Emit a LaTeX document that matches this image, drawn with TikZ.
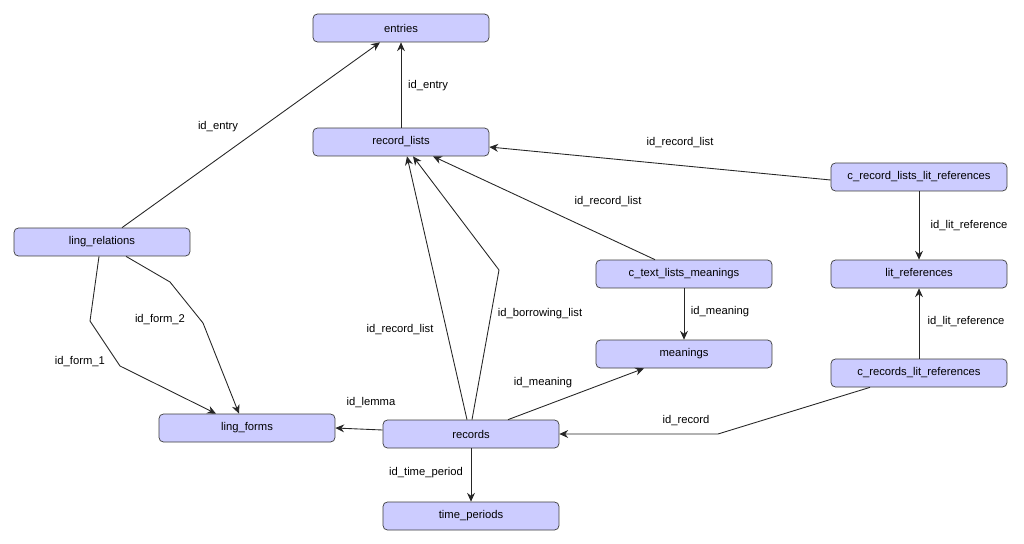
\documentclass[tikz,border=0pt]{standalone}
\usepackage{fontspec}
\setmainfont{Liberation Sans}
\usetikzlibrary{arrows.meta,calc}
\definecolor{tblfill}{RGB}{204,204,255}
\definecolor{tbledge}{RGB}{60,60,60}

\tikzset{
  tbl/.style={draw=tbledge, fill=tblfill, rounded corners=2.5pt, minimum width=3.52cm,
    minimum height=0.56cm, inner sep=0pt, font=\fontsize{6.4}{8}\selectfont},
  fk/.style={-{Stealth[length=5pt,width=4.5pt]}, draw=black!85, line width=0.5pt},
  lbl/.style={font=\fontsize{6.4}{8}\selectfont, inner sep=0pt}
}

\begin{document}
\begin{tikzpicture}[x=0.02cm, y=-0.02cm]
  \useasboundingbox (0,0) rectangle (1024,544);

  % tables
  \node[tbl] (ent)   at (401,28)  {entries};
  \node[tbl] (recl)  at (401,142) {record\_lists};
  \node[tbl] (lrel)  at (102,242) {ling\_relations};
  \node[tbl] (crllr) at (919,177) {c\_record\_lists\_lit\_references};
  \node[tbl] (ctlm)  at (684,274) {c\_text\_lists\_meanings};
  \node[tbl] (litr)  at (919,274) {lit\_references};
  \node[tbl] (mean)  at (684,354) {meanings};
  \node[tbl] (crlr)  at (919,373) {c\_records\_lit\_references};
  \node[tbl] (lform) at (247,428) {ling\_forms};
  \node[tbl] (rec)   at (471,434) {records};
  \node[tbl] (tper)  at (471,516) {time\_periods};

  % foreign keys
  \draw[fk] (recl.north) -- (ent.south);
  \draw[fk] ($(lrel.north)+(20,0)$) -- ($(ent.south)+(-21,0)$);
  \draw[fk] ($(lrel.south)+(-3,0)$) -- (90,321) -- (120,366) -- ($(lform.north)+(-31,0)$);
  \draw[fk] ($(lrel.south)+(24,0)$) -- (170,282) -- (203,323) -- ($(lform.north)+(-8,0)$);
  \draw[fk] ($(rec.west)+(0,-4)$) -- (lform.east);
  \draw[fk] ($(rec.north)+(-4,0)$) -- ($(recl.south)+(6,0)$);
  \draw[fk] ($(rec.north)+(1,0)$) -- (499,270) -- ($(recl.south)+(12,0)$);
  \draw[fk] ($(ctlm.north)+(-29,0)$) -- ($(recl.south)+(32,0)$);
  \draw[fk] ($(crllr.west)+(0,3)$) -- ($(recl.east)+(0,5)$);
  \draw[fk] (crllr.south) -- (litr.north);
  \draw[fk] (ctlm.south) -- (mean.north);
  \draw[fk] (crlr.north) -- (litr.south);
  \draw[fk] ($(rec.north)+(37,0)$) -- ($(mean.south)+(-40,0)$);
  \draw[fk] ($(crlr.south)+(-49,0)$) -- (718,434) -- (rec.east);
  \draw[fk] (rec.south) -- (tper.north);

  % key names
  \node[lbl] (l1)  at (428,86)  {id\_entry};
  \node[lbl] (l2)  at (218,127) {id\_entry};
  \node[lbl] (l3)  at (80,362)  {id\_form\_1};
  \node[lbl] (l4)  at (160,320) {id\_form\_2};
  \node[lbl] (l5)  at (371,403) {id\_lemma};
  \node[lbl] (l6)  at (400,330) {id\_record\_list};
  \node[lbl] (l7)  at (540,314) {id\_borrowing\_list};
  \node[lbl] (l8)  at (608,202) {id\_record\_list};
  \node[lbl] (l9)  at (680,143) {id\_record\_list};
  \node[lbl] (l10) at (969,226) {id\_lit\_reference};
  \node[lbl] (l11) at (720,312) {id\_meaning};
  \node[lbl] (l12) at (966,322) {id\_lit\_reference};
  \node[lbl] (l13) at (543,383) {id\_meaning};
  \node[lbl] (l14) at (686,421) {id\_record};
  \node[lbl] (l15) at (426,473) {id\_time\_period};
\end{tikzpicture}
\end{document}
